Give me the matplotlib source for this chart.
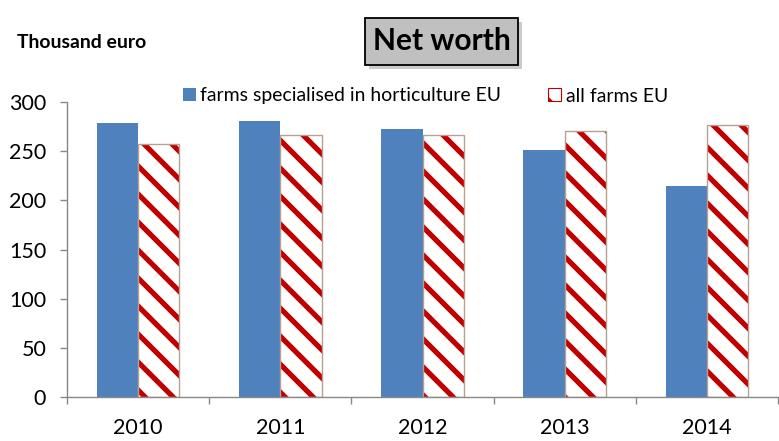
import matplotlib
matplotlib.use("Agg")
import matplotlib.pyplot as plt
from matplotlib.patches import Rectangle, Patch
import numpy as np

years = ["2010", "2011", "2012", "2013", "2014"]
horticulture = [279, 281, 273, 251, 215]
all_farms = [257, 266, 266, 271, 277]
yticks = [0, 50, 100, 150, 200, 250, 300]

DPI = 84
S = 100 / DPI  # keep pixel sizes as designed for 100 dpi

plt.rcParams['font.family'] = ['Lato', 'DejaVu Sans']
plt.rcParams['hatch.linewidth'] = 3.8 * S

W, H = 779, 441
fig = plt.figure(figsize=(W / DPI, H / DPI), dpi=DPI)
ax = fig.add_axes([67 / W, 1 - 397 / H, (778 - 67) / W, (397 - 102) / H])

x = np.arange(len(years))
bw = 0.29
blue = '#4F81BD'
red = '#C00000'
edge = '#B8A090'

ax.bar(x - bw / 2, horticulture, bw, color=blue, linewidth=0)
ax.bar(x + bw / 2, all_farms, bw, color='white', edgecolor=red, hatch='\\', linewidth=0)
ax.bar(x + bw / 2, all_farms, bw, fill=False, edgecolor=edge, linewidth=1.0 * S)

ax.set_xlim(-0.5, len(years) - 0.5)
ax.set_ylim(0, 300)
ax.set_yticks(yticks)
ax.set_yticklabels([str(v) for v in yticks], fontsize=15.5 * S)
ax.set_xticks(x)
ax.set_xticklabels(years, fontsize=15.5 * S)
ax.tick_params(axis='x', length=0, pad=15 * S)
ax.set_xticks(np.arange(-0.5, len(years) + 0.5, 1), minor=True)
ax.tick_params(axis='x', which='minor', length=5 * S, width=1.0 * S, color='#888888', direction='out')
ax.tick_params(axis='y', length=5 * S, width=1.0 * S, color='#888888', direction='out', pad=10 * S)
for s in ['top', 'right']:
    ax.spines[s].set_visible(False)
for s in ['left', 'bottom']:
    ax.spines[s].set_color('#888888')
    ax.spines[s].set_linewidth(1.0 * S)

# Title box with shadow
bx0, by0, bw_, bh_ = 365, 18, 153, 47
sh = Rectangle(((bx0 + 4) / W, 1 - (by0 + bh_ + 4) / H), bw_ / W, bh_ / H,
               transform=fig.transFigure, facecolor='#999999', alpha=0.5, edgecolor='none')
fig.patches.append(sh)
box = Rectangle((bx0 / W, 1 - (by0 + bh_) / H), bw_ / W, bh_ / H,
                transform=fig.transFigure, facecolor='#C0C0C0', edgecolor='black',
                linewidth=1.3 * S)
fig.patches.append(box)
fig.text((bx0 + bw_ / 2) / W, 1 - (by0 + bh_ / 2) / H, "Net worth", fontsize=21.5 * S,
         fontweight='bold', ha='center', va='center')

fig.text(17 / W, 1 - 43 / H, "Thousand euro", fontsize=14 * S, fontweight='bold',
         ha='left', va='center')

handles = [Patch(facecolor=blue, edgecolor=blue, linewidth=0),
           Patch(facecolor='white', edgecolor=red, hatch='\\', linewidth=0.8 * S)]
labels = ["farms specialised in horticulture EU", "all farms EU"]
fig.legend(handles, labels, loc='center left', bbox_to_anchor=(183 / W, 1 - 96 / H),
           ncol=2, frameon=False, fontsize=14 * S, handlelength=0.65, handleheight=0.65,
           handletextpad=0.25, columnspacing=2.4, borderpad=0, borderaxespad=0)

fig.savefig("out.png", dpi=DPI)
